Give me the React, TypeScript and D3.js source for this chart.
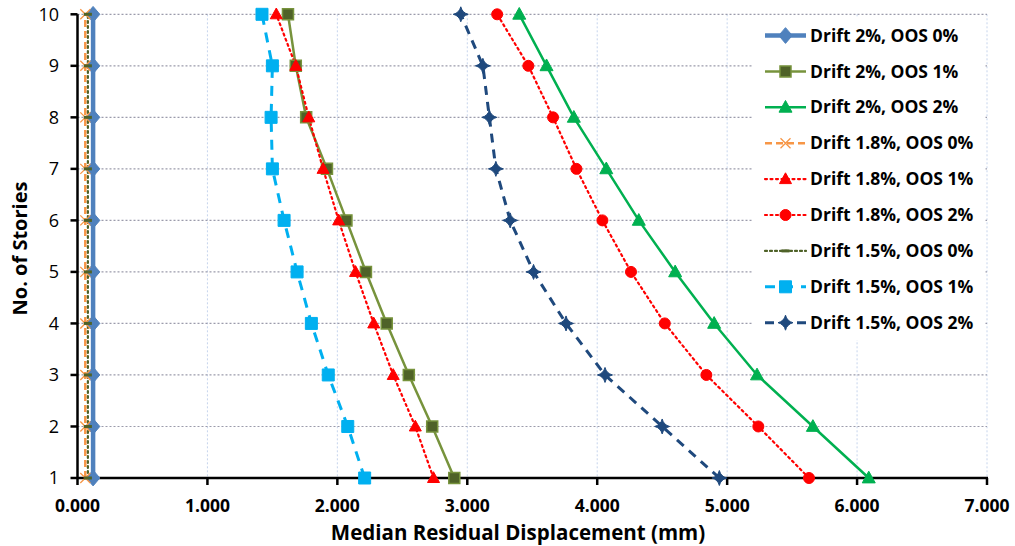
import React from "react";
import * as d3 from "d3";

const stories = [1, 2, 3, 4, 5, 6, 7, 8, 9, 10];
const xTicks = [0, 1, 2, 3, 4, 5, 6, 7];

const drift2_oos0 = [0.12, 0.12, 0.12, 0.12, 0.12, 0.12, 0.12, 0.12, 0.12, 0.12];
const drift2_oos1 = [2.90, 2.73, 2.55, 2.38, 2.22, 2.07, 1.92, 1.76, 1.68, 1.62];
const drift2_oos2 = [6.09, 5.66, 5.23, 4.90, 4.60, 4.32, 4.07, 3.82, 3.61, 3.40];
const drift18_oos0 = [0.06, 0.06, 0.06, 0.06, 0.06, 0.06, 0.06, 0.06, 0.06, 0.06];
const drift18_oos1 = [2.74, 2.60, 2.43, 2.28, 2.14, 2.01, 1.89, 1.78, 1.68, 1.53];
const drift18_oos2 = [5.63, 5.24, 4.84, 4.52, 4.26, 4.04, 3.84, 3.66, 3.47, 3.23];
const drift15_oos0 = [0.08, 0.08, 0.08, 0.08, 0.08, 0.08, 0.08, 0.08, 0.08, 0.08];
const drift15_oos1 = [2.21, 2.08, 1.93, 1.80, 1.69, 1.59, 1.50, 1.49, 1.50, 1.42];
const drift15_oos2 = [4.94, 4.50, 4.06, 3.76, 3.51, 3.33, 3.22, 3.17, 3.12, 2.95];

type Marker = "diamond" | "square" | "triangle" | "x" | "circle" | "dash" | "star";

interface Series {
  name: string;
  values: number[];
  color: string;
  width: number;
  dash: string | null;
  marker: Marker;
  mFill: string;
  mStroke: string;
  mSize: number;
}

const series: Series[] = [
  { name: "Drift 2%, OOS 0%", values: drift2_oos0, color: "#4f81bd", width: 4.5, dash: null, marker: "diamond", mFill: "#4f81bd", mStroke: "#4f81bd", mSize: 7.5 },
  { name: "Drift 2%, OOS 1%", values: drift2_oos1, color: "#77933c", width: 2.5, dash: null, marker: "square", mFill: "#4f6228", mStroke: "#77933c", mSize: 5.5 },
  { name: "Drift 2%, OOS 2%", values: drift2_oos2, color: "#00b050", width: 2.5, dash: null, marker: "triangle", mFill: "#00b050", mStroke: "#00b050", mSize: 6.5 },
  { name: "Drift 1.8%, OOS 0%", values: drift18_oos0, color: "#f79646", width: 2.5, dash: "7,4", marker: "x", mFill: "none", mStroke: "#f79646", mSize: 5 },
  { name: "Drift 1.8%, OOS 1%", values: drift18_oos1, color: "#ff0000", width: 2.2, dash: "2,3.5", marker: "triangle", mFill: "#ff0000", mStroke: "#ff0000", mSize: 6 },
  { name: "Drift 1.8%, OOS 2%", values: drift18_oos2, color: "#ff0000", width: 2.2, dash: "2,3.5", marker: "circle", mFill: "#ff0000", mStroke: "#ff0000", mSize: 5.5 },
  { name: "Drift 1.5%, OOS 0%", values: drift15_oos0, color: "#4f6228", width: 2.2, dash: "2,3", marker: "dash", mFill: "#4f6228", mStroke: "#4f6228", mSize: 4 },
  { name: "Drift 1.5%, OOS 1%", values: drift15_oos1, color: "#00b0f0", width: 3, dash: "10,8", marker: "square", mFill: "#00b0f0", mStroke: "#00b0f0", mSize: 6 },
  { name: "Drift 1.5%, OOS 2%", values: drift15_oos2, color: "#1f497d", width: 3, dash: "9,7", marker: "star", mFill: "#1f497d", mStroke: "#1f497d", mSize: 7.5 },
];

const W = 1015;
const H = 546;
const plot = { left: 77.5, right: 987, top: 14.3, bottom: 478 };
const FONT = "'Open Sans', 'DejaVu Sans', sans-serif";

function markerPath(m: Marker, s: number): string {
  switch (m) {
    case "diamond":
      return `M0,${-s * 1.05}L${s * 0.9},0L0,${s * 1.05}L${-s * 0.9},0Z`;
    case "star":
      return `M0,${-s}Q${s * 0.2},${-s * 0.2} ${s},0Q${s * 0.2},${s * 0.2} 0,${s}Q${-s * 0.2},${s * 0.2} ${-s},0Q${-s * 0.2},${-s * 0.2} 0,${-s}Z`;
    case "square":
      return `M${-s},${-s}H${s}V${s}H${-s}Z`;
    case "triangle":
      return `M0,${-s * 1.05}L${s},${s * 0.75}L${-s},${s * 0.75}Z`;
    case "circle":
      return d3.symbol(d3.symbolCircle, Math.PI * s * s)() || "";
    case "x":
      return `M${-s},${-s}L${s},${s}M${s},${-s}L${-s},${s}`;
    case "dash":
      return `M${-s},0H${s}`;
  }
}

function MarkerShape({ s, x, y }: { s: Series; x: number; y: number }) {
  const d = markerPath(s.marker, s.mSize);
  if (s.marker === "x") {
    return <path d={d} transform={`translate(${x},${y})`} fill="none" stroke={s.mStroke} strokeWidth={1.3} />;
  }
  if (s.marker === "dash") {
    return <path d={d} transform={`translate(${x},${y})`} fill="none" stroke={s.mStroke} strokeWidth={3} />;
  }
  return (
    <path
      d={d}
      transform={`translate(${x},${y})`}
      fill={s.mFill}
      stroke={s.mStroke}
      strokeWidth={s.marker === "square" && s.mFill !== s.mStroke ? 1.5 : 1}
    />
  );
}

export default function App() {
  const x = d3.scaleLinear().domain([0, 7]).range([plot.left, plot.right]);
  const y = d3.scaleLinear().domain([1, 10]).range([plot.bottom, plot.top]);
  const line = d3
    .line<number>()
    .x((d) => x(d))
    .y((_, i) => y(stories[i]));

  const legendX = 752;
  const legendY = 17;
  const legendW = 233;
  const legendH = 323;
  const rowY0 = 35.5;
  const rowStep = 35.9;

  return (
    <div style={{ position: "absolute", left: 0, top: 0 }}>
      <svg width={W} height={H} style={{ display: "block", background: "#ffffff" }}>
        <rect x={0} y={0} width={W} height={H} fill="#ffffff" />
        {/* vertical gridlines */}
        {xTicks.filter((t) => t > 0).map((t) => (
          <line key={"vg" + t} x1={x(t)} x2={x(t)} y1={plot.top} y2={plot.bottom} stroke="#c6d4ec" strokeWidth={1} strokeDasharray="2,2" />
        ))}
        {/* horizontal gridlines */}
        {stories.filter((s) => s > 1).map((s) => (
          <line key={"hg" + s} x1={plot.left} x2={plot.right} y1={y(s)} y2={y(s)} stroke="#9b9bab" strokeWidth={1.2} strokeDasharray="2,2" />
        ))}

        {/* axes */}
        <line x1={plot.left} x2={plot.right + 1} y1={plot.bottom} y2={plot.bottom} stroke="#000" strokeWidth={2.5} />
        <line x1={plot.left} x2={plot.left} y1={plot.top} y2={plot.bottom + 1} stroke="#000" strokeWidth={2.5} />
        {xTicks.map((t) => (
          <line key={"xt" + t} x1={x(t)} x2={x(t)} y1={plot.bottom} y2={plot.bottom + 7} stroke="#000" strokeWidth={2.5} />
        ))}
        {stories.map((s) => (
          <line key={"yt" + s} x1={plot.left - 7} x2={plot.left} y1={y(s)} y2={y(s)} stroke="#000" strokeWidth={2.5} />
        ))}

        {/* tick labels */}
        {xTicks.map((t) => (
          <text key={"xl" + t} x={x(t)} y={512} textAnchor="middle" fontFamily={FONT} fontWeight="bold" fontSize={17.5} fill="#000">
            {d3.format(".3f")(t)}
          </text>
        ))}
        {stories.map((s) => (
          <text key={"yl" + s} x={59} y={y(s)} dy="0.36em" textAnchor="end" fontFamily={FONT} fontSize={18} fill="#000">
            {s}
          </text>
        ))}

        {/* axis titles */}
        <text x={(323 + 713) / 2} y={540} textAnchor="middle" fontFamily={FONT} fontWeight="bold" fontSize={20.5} fill="#000">
          Median Residual Displacement (mm)
        </text>
        <text
          transform={`translate(27,${(180 + 317) / 2}) rotate(-90)`}
          textAnchor="middle"
          fontFamily={FONT}
          fontWeight="bold"
          fontSize={20}
          fill="#000"
        >
          No. of Stories
        </text>

        {/* series lines */}
        {series.map((s) => (
          <path
            key={"l" + s.name}
            d={line(s.values) || ""}
            fill="none"
            stroke={s.color}
            strokeWidth={s.width}
            strokeDasharray={s.dash || undefined}
            strokeLinecap={s.dash && s.dash.startsWith("2,") ? "round" : "butt"}
          />
        ))}
        {/* markers */}
        {series.map((s) => (
          <g key={"m" + s.name}>
            {s.values.map((v, i) => (
              <MarkerShape key={i} s={s} x={x(v)} y={y(stories[i])} />
            ))}
          </g>
        ))}

        {/* legend */}
        <rect x={legendX} y={legendY} width={legendW} height={legendH} fill="#ffffff" />
        {series.map((s, i) => {
          const cy = rowY0 + i * rowStep;
          return (
            <g key={"lg" + s.name}>
              <line
                x1={765}
                x2={806}
                y1={cy}
                y2={cy}
                stroke={s.color}
                strokeWidth={s.width}
                strokeDasharray={s.dash || undefined}
                strokeLinecap={s.dash && s.dash.startsWith("2,") ? "round" : "butt"}
              />
              <MarkerShape s={s} x={785.5} y={cy} />
              <text x={810} y={cy} dy="0.35em" fontFamily={FONT} fontWeight="bold" fontSize={17.5} fill="#000">
                {s.name}
              </text>
            </g>
          );
        })}
      </svg>
    </div>
  );
}
